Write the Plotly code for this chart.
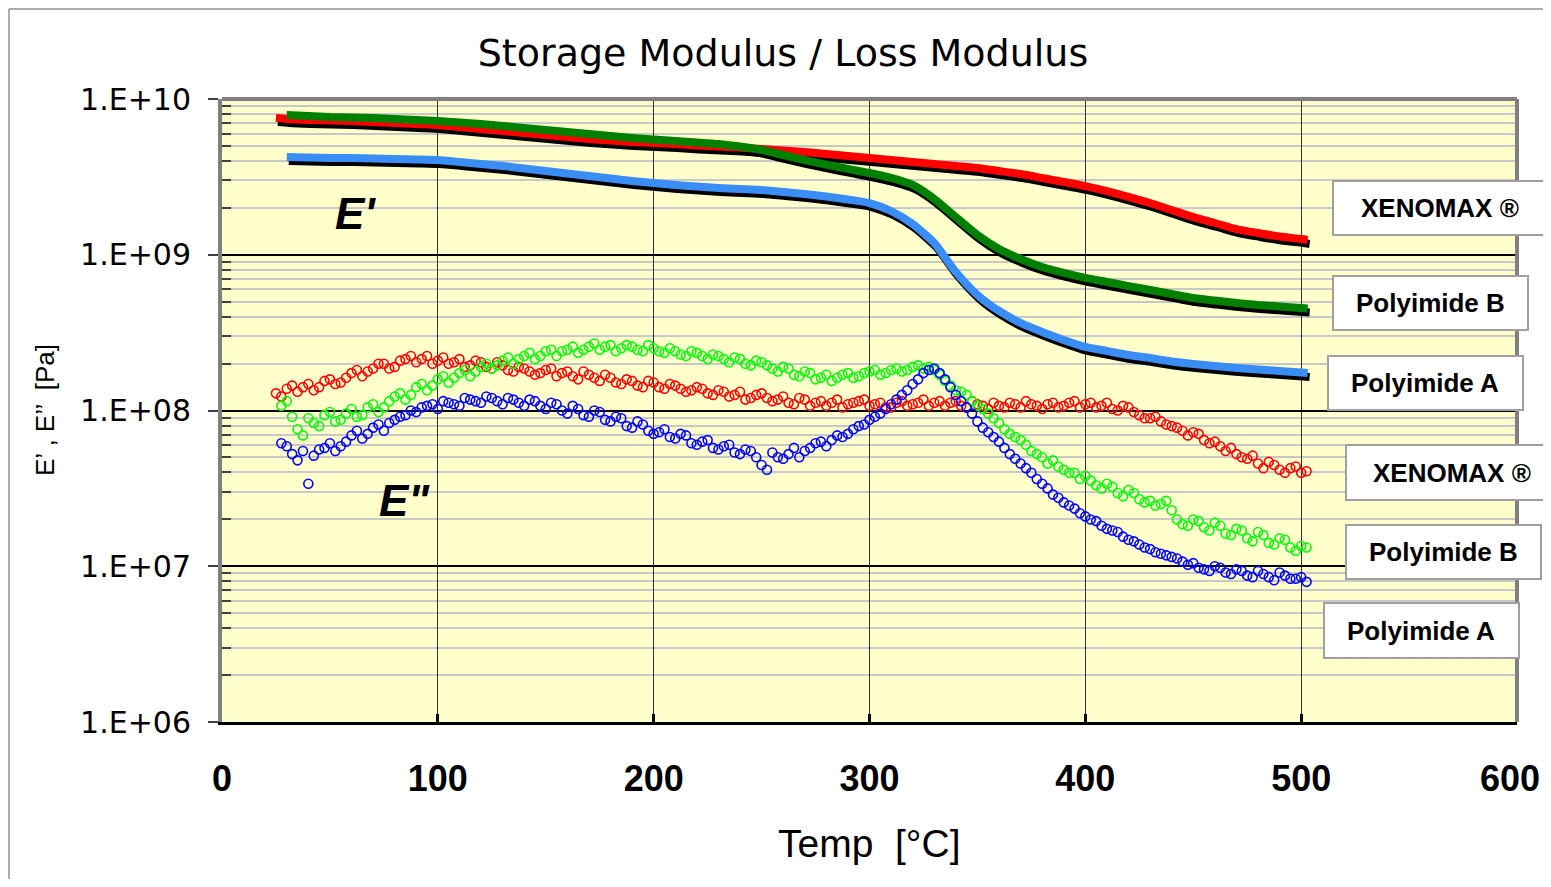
import plotly.graph_objects as go

# ---------------- data ----------------
SERIES_LABELS = ["XENOMAX ®", "Polyimide B", "Polyimide A"]

# Storage modulus E' : temperature [°C] and log10(E' [Pa])
T_EP = [25, 30, 40, 50, 60, 70, 80, 90, 100, 110, 120, 130, 140, 150, 160, 170, 180, 190,
        200, 210, 220, 230, 240, 250, 260, 270, 280, 290, 300, 310, 320, 330, 340, 350,
        360, 370, 380, 390, 400, 410, 420, 430, 440, 450, 460, 470, 480, 490, 500, 503]
LOG_EP_XENOMAX = [9.878, 9.872, 9.865, 9.862, 9.859, 9.852, 9.846, 9.839, 9.833, 9.820,
                  9.807, 9.795, 9.782, 9.769, 9.756, 9.743, 9.734, 9.724, 9.717, 9.711,
                  9.701, 9.695, 9.689, 9.679, 9.669, 9.660, 9.647, 9.634, 9.621, 9.608,
                  9.596, 9.583, 9.570, 9.557, 9.538, 9.518, 9.493, 9.467, 9.441, 9.409,
                  9.371, 9.332, 9.287, 9.242, 9.204, 9.165, 9.140, 9.117, 9.101, 9.095]
LOG_EP_PI_B = [None, 9.897, 9.891, 9.884, 9.881, 9.878, 9.872, 9.865, 9.859, 9.849,
               9.839, 9.827, 9.814, 9.801, 9.788, 9.775, 9.762, 9.750, 9.740, 9.730,
               9.721, 9.711, 9.695, 9.673, 9.640, 9.608, 9.579, 9.551, 9.525, 9.493,
               9.448, 9.358, 9.242, 9.127, 9.037, 8.973, 8.921, 8.883, 8.851, 8.825,
               8.799, 8.774, 8.748, 8.722, 8.706, 8.690, 8.677, 8.668, 8.658, 8.655]
LOG_EP_PI_A = [None, 9.628, 9.625, 9.621, 9.621, 9.618, 9.615, 9.612, 9.608, 9.596,
               9.583, 9.570, 9.554, 9.538, 9.522, 9.506, 9.490, 9.474, 9.461, 9.448,
               9.438, 9.429, 9.422, 9.416, 9.403, 9.390, 9.374, 9.355, 9.332, 9.281,
               9.197, 9.075, 8.889, 8.742, 8.639, 8.562, 8.504, 8.453, 8.408, 8.382,
               8.356, 8.337, 8.315, 8.299, 8.286, 8.273, 8.263, 8.254, 8.244, 8.241]

# Loss modulus E'' : two interleaved sets of readings, log10(E'' [Pa])
T_EPP_1 = [25, 30, 35, 40, 45, 50, 55, 60, 65, 70, 75, 80, 85, 90, 95, 100, 105, 110, 115,
           120, 125, 130, 135, 140, 145, 150, 155, 160, 165, 170, 175, 180, 185, 190, 195,
           200, 205, 210, 215, 220, 225, 230, 235, 240, 245, 250, 255, 260, 265, 270, 275,
           280, 285, 290, 295, 300, 305, 310, 315, 320, 325, 330, 335, 340, 345, 350, 355,
           360, 365, 370, 375, 380, 385, 390, 395, 400, 405, 410, 415, 420, 425, 430, 435,
           440, 445, 450, 455, 460, 465, 470, 475, 480, 485, 490, 495, 500]
T_EPP_2 = [27.5, 32.5, 37.5, 42.5, 47.5, 52.5, 57.5, 62.5, 67.5, 72.5, 77.5, 82.5, 87.5,
           92.5, 97.5, 102.5, 107.5, 112.5, 117.5, 122.5, 127.5, 132.5, 137.5, 142.5,
           147.5, 152.5, 157.5, 162.5, 167.5, 172.5, 177.5, 182.5, 187.5, 192.5, 197.5,
           202.5, 207.5, 212.5, 217.5, 222.5, 227.5, 232.5, 237.5, 242.5, 247.5, 252.5,
           257.5, 262.5, 267.5, 272.5, 277.5, 282.5, 287.5, 292.5, 297.5, 302.5, 307.5,
           312.5, 317.5, 322.5, 327.5, 332.5, 337.5, 342.5, 347.5, 352.5, 357.5, 362.5,
           367.5, 372.5, 377.5, 382.5, 387.5, 392.5, 397.5, 402.5, 407.5, 412.5, 417.5,
           422.5, 427.5, 432.5, 437.5, 442.5, 447.5, 452.5, 457.5, 462.5, 467.5, 472.5,
           477.5, 482.5, 487.5, 492.5, 497.5, 502.5]

LOG_EPP_XENOMAX_1 = [8.11, 8.14, 8.12, 8.17, 8.15, 8.20, 8.18, 8.24, 8.22, 8.27, 8.30, 8.28,
                     8.33, 8.31, 8.35, 8.32, 8.30, 8.33, 8.29, 8.31, 8.27, 8.29, 8.25, 8.27,
                     8.23, 8.26, 8.22, 8.25, 8.20, 8.23, 8.19, 8.21, 8.17, 8.19, 8.15, 8.18,
                     8.14, 8.16, 8.12, 8.15, 8.11, 8.13, 8.09, 8.12, 8.08, 8.11, 8.06, 8.09,
                     8.04, 8.07, 8.05, 8.03, 8.07, 8.04, 8.06, 8.03, 8.05, 8.02, 8.06, 8.04,
                     8.07, 8.05, 8.03, 8.06, 8.02, 8.04, 8.01, 8.03, 8.05, 8.02, 8.04, 8.01,
                     8.05, 8.03, 8.06, 8.04, 8.02, 8.05, 8.00, 8.02, 7.97, 7.95, 7.93, 7.90,
                     7.87, 7.86, 7.81, 7.80, 7.74, 7.72, 7.69, 7.66, 7.67, 7.62, 7.63, 7.60]
LOG_EPP_XENOMAX_2 = [8.09, 8.16, 8.15, 8.13, 8.19, 8.17, 8.21, 8.26, 8.25, 8.30, 8.27, 8.32,
                     8.35, 8.33, 8.30, 8.34, 8.31, 8.28, 8.32, 8.28, 8.31, 8.26, 8.28, 8.25,
                     8.24, 8.27, 8.24, 8.22, 8.25, 8.21, 8.23, 8.18, 8.20, 8.16, 8.19, 8.15,
                     8.17, 8.14, 8.13, 8.14, 8.10, 8.12, 8.10, 8.07, 8.10, 8.08, 8.07, 8.05,
                     8.08, 8.03, 8.06, 8.05, 8.02, 8.05, 8.07, 8.04, 8.02, 8.05, 8.03, 8.05,
                     8.03, 8.06, 8.05, 8.03, 8.06, 8.03, 8.05, 8.02, 8.04, 8.06, 8.03, 8.04,
                     8.02, 8.05, 8.02, 8.05, 8.03, 8.01, 8.03, 7.99, 7.95, 7.96, 7.91, 7.89,
                     7.84, 7.85, 7.79, 7.77, 7.76, 7.70, 7.71, 7.63, 7.65, 7.60, 7.64, 7.61]
LOG_EPP_PI_B_1 = [None, 8.06, 7.88, 7.95, 7.90, 7.99, 7.94, 8.01, 7.97, 8.04, 8.02, 8.09,
                  8.07, 8.15, 8.13, 8.20, 8.18, 8.24, 8.22, 8.28, 8.27, 8.32, 8.30, 8.35,
                  8.33, 8.38, 8.35, 8.39, 8.37, 8.41, 8.39, 8.42, 8.40, 8.41, 8.38, 8.40,
                  8.37, 8.38, 8.35, 8.37, 8.33, 8.35, 8.31, 8.33, 8.29, 8.31, 8.27, 8.28,
                  8.23, 8.25, 8.20, 8.23, 8.21, 8.24, 8.22, 8.25, 8.23, 8.26, 8.25, 8.28,
                  8.27, 8.26, 8.19, 8.13, 8.10, 8.03, 7.98, 7.92, 7.85, 7.81, 7.74, 7.70,
                  7.68, 7.62, 7.60, 7.58, 7.52, 7.53, 7.47, 7.49, 7.43, 7.42, 7.40, 7.36,
                  7.27, 7.30, 7.25, 7.28, 7.21, 7.24, 7.18, 7.22, 7.15, 7.18, 7.12, 7.13]
LOG_EPP_PI_B_2 = [8.03, 7.96, 7.84, 7.92, 7.97, 7.93, 7.98, 7.96, 8.02, 7.99, 8.06, 8.11,
                  8.10, 8.17, 8.16, 8.22, 8.21, 8.26, 8.25, 8.30, 8.29, 8.34, 8.33, 8.37,
                  8.35, 8.39, 8.38, 8.41, 8.39, 8.43, 8.41, 8.38, 8.42, 8.39, 8.42, 8.38,
                  8.40, 8.36, 8.38, 8.35, 8.36, 8.33, 8.34, 8.30, 8.32, 8.29, 8.25, 8.27,
                  8.22, 8.24, 8.21, 8.19, 8.23, 8.21, 8.24, 8.26, 8.24, 8.27, 8.26, 8.29,
                  8.28, 8.23, 8.16, 8.12, 8.06, 8.01, 7.95, 7.88, 7.83, 7.78, 7.72, 7.66,
                  7.64, 7.60, 7.56, 7.55, 7.50, 7.51, 7.45, 7.47, 7.41, 7.39, 7.42, 7.30,
                  7.26, 7.29, 7.23, 7.26, 7.20, 7.23, 7.16, 7.20, 7.14, 7.17, 7.10, 7.12]
LOG_EPP_PI_A_1 = [None, 7.77, 7.68, 7.53, 7.75, 7.79, 7.77, 7.84, 7.82, 7.89, 7.87, 7.94,
                  7.97, 7.99, 8.03, 8.01, 8.05, 8.03, 8.07, 8.05, 8.08, 8.04, 8.07, 8.03,
                  8.06, 8.01, 8.04, 7.98, 8.01, 7.96, 7.99, 7.93, 7.95, 7.89, 7.91, 7.85,
                  7.88, 7.82, 7.84, 7.78, 7.81, 7.75, 7.78, 7.72, 7.74, 7.65, 7.73, 7.69,
                  7.76, 7.74, 7.79, 7.77, 7.84, 7.85, 7.90, 7.94, 7.98, 8.04, 8.10, 8.17,
                  8.24, 8.27, 8.20, 8.10, 8.02, 7.93, 7.86, 7.80, 7.72, 7.66, 7.60, 7.53,
                  7.46, 7.41, 7.37, 7.32, 7.29, 7.24, 7.22, 7.17, 7.14, 7.11, 7.08, 7.06,
                  7.03, 7.02, 6.98, 7.00, 6.96, 6.98, 6.94, 6.97, 6.93, 6.96, 6.92, 6.93]
LOG_EPP_PI_A_2 = [7.79, 7.72, 7.74, 7.71, 7.76, 7.74, 7.80, 7.87, 7.85, 7.91, 7.92, 7.96,
                  8.00, 8.02, 8.04, 8.06, 8.04, 8.08, 8.06, 8.09, 8.06, 8.08, 8.05, 8.07,
                  8.03, 8.05, 8.00, 8.03, 7.97, 8.00, 7.94, 7.96, 7.90, 7.93, 7.87, 7.86,
                  7.83, 7.85, 7.79, 7.80, 7.76, 7.77, 7.73, 7.75, 7.70, 7.62, 7.70, 7.72,
                  7.70, 7.76, 7.80, 7.81, 7.83, 7.88, 7.91, 7.96, 8.01, 8.07, 8.13, 8.20,
                  8.26, 8.24, 8.15, 8.06, 7.98, 7.89, 7.83, 7.76, 7.69, 7.63, 7.56, 7.50,
                  7.44, 7.39, 7.34, 7.30, 7.26, 7.23, 7.19, 7.16, 7.12, 7.09, 7.07, 7.05,
                  7.01, 6.99, 6.97, 6.99, 6.95, 6.97, 6.93, 6.95, 6.91, 6.94, 6.92, 6.90]

X_TICK_VALUES = [0, 100, 200, 300, 400, 500, 600]
Y_TICK_VALUES = [1e6, 1e7, 1e8, 1e9, 1e10]
Y_TICK_TEXT = ["1.E+06", "1.E+07", "1.E+08", "1.E+09", "1.E+10"]
Y_MINOR_VALUES = [m * 10 ** e for e in range(6, 10) for m in range(2, 10)]

EP_COLORS = ["#FF0000", "#008000", "#3A8DF5"]
EPP_COLORS = ["#FF0000", "#00FF00", "#0000FF"]


def to_pa(logs):
    return [None if v is None else 10 ** v for v in logs]


# ---------------- geometry helpers (page pixels -> paper) ----------------
OFF = 8                                  # page body margin
W, H = 1551 - 2 * OFF, 887 - 2 * OFF     # figure fits the window exactly
L, R, TOP, BOT = 222, 1517, 99, 722      # plot area in page pixels
PW, PH = R - L, BOT - TOP


def px(xp):
    return (xp - L) / PW


def py(yp):
    return (BOT - yp) / PH


fig = go.Figure()

ep_series = [LOG_EP_XENOMAX, LOG_EP_PI_B, LOG_EP_PI_A]
epp_series = [(LOG_EPP_XENOMAX_1, LOG_EPP_XENOMAX_2),
              (LOG_EPP_PI_B_1, LOG_EPP_PI_B_2),
              (LOG_EPP_PI_A_1, LOG_EPP_PI_A_2)]

# E'' scatter (main axes)
for (s1, s2), col, name in zip(epp_series, EPP_COLORS, SERIES_LABELS):
    for tt, ss in ((T_EPP_1, s1), (T_EPP_2, s2)):
        fig.add_trace(go.Scatter(x=tt, y=to_pa(ss), mode="markers",
                                 name="E'' " + name,
                                 marker=dict(symbol="circle-open", size=9, color=col,
                                             line=dict(color=col, width=1.6)),
                                 showlegend=False))

# shadows of E' curves (shifted overlay axes)
for logs in ep_series:
    fig.add_trace(go.Scatter(x=T_EP, y=to_pa(logs), mode="lines", xaxis="x2", yaxis="y2",
                             line=dict(color="black", width=8, shape="spline", smoothing=0.6),
                             showlegend=False, hoverinfo="skip"))

# E' curves
for logs, col, name in zip(ep_series, EP_COLORS, SERIES_LABELS):
    fig.add_trace(go.Scatter(x=T_EP, y=to_pa(logs), mode="lines", xaxis="x3", yaxis="y3",
                             name="E' " + name,
                             line=dict(color=col, width=8, shape="spline", smoothing=0.6),
                             showlegend=False))

dx = 2 * 600 / PW       # 2 px right
dy = 4 * 4 / PH         # 4 px down (log units)

XTICK_FONT = dict(family="Liberation Sans", size=36, color="black", weight="bold")

fig.update_layout(
    width=W, height=H, autosize=False,
    margin=dict(l=L - OFF, r=W - (R - OFF), t=TOP - OFF, b=H - (BOT - OFF), pad=0),
    paper_bgcolor="white", plot_bgcolor="#FFFFCC",
    title=dict(text="Storage Modulus / Loss Modulus", x=(783 - OFF) / W, xref="container",
               xanchor="center", y=1 - (53 - OFF) / H, yref="container", yanchor="middle",
               font=dict(family="DejaVu Sans", size=38, color="black")),
    xaxis=dict(range=[0, 600], tickmode="array", tickvals=X_TICK_VALUES,
               ticks="inside", ticklen=8, tickwidth=3, tickcolor="black",
               showline=True, linecolor="black", linewidth=3,
               showgrid=True, gridcolor="#333333", gridwidth=1, zeroline=False,
               tickfont=XTICK_FONT, ticklabelstandoff=23),
    yaxis=dict(type="log", range=[6, 10], tickmode="array", tickvals=Y_TICK_VALUES,
               ticktext=Y_TICK_TEXT, ticks="outside", ticklen=10, tickwidth=1.5,
               tickcolor="#404040", showline=True, linecolor="#808080", linewidth=4,
               showgrid=True, gridcolor="black", gridwidth=1.5, zeroline=False,
               tickfont=dict(family="DejaVu Sans", size=30, color="black"),
               ticklabelstandoff=11,
               minor=dict(tickmode="array", tickvals=Y_MINOR_VALUES, ticks="inside",
                          ticklen=9, tickwidth=1.5, tickcolor="#404040",
                          showgrid=True, gridcolor="#C8C8C8", gridwidth=1.5)),
    xaxis2=dict(overlaying="x", range=[-dx, 600 - dx], visible=False),
    yaxis2=dict(overlaying="y", type="log", range=[6 + dy, 10 + dy], visible=False),
    xaxis3=dict(overlaying="x", range=[0, 600], visible=False),
    yaxis3=dict(overlaying="y", type="log", range=[6, 10], visible=False),
)

shapes = []
# outer chart border (left and top)
shapes.append(dict(type="line", xref="paper", yref="paper", x0=px(9), x1=px(9),
                   y0=py(9), y1=py(900), line=dict(color="#909090", width=1.5)))
shapes.append(dict(type="line", xref="paper", yref="paper", x0=px(9), x1=px(1600),
                   y0=py(9), y1=py(9), line=dict(color="#909090", width=1.5)))
# plot frame top / right
shapes.append(dict(type="line", xref="paper", yref="paper", x0=0, x1=1, y0=1, y1=1,
                   line=dict(color="#808080", width=4)))
shapes.append(dict(type="line", xref="paper", yref="paper", x0=1, x1=1, y0=0, y1=1,
                   line=dict(color="#808080", width=4)))

# label boxes: (left, top, right, bottom, text cx, text cy, label) in page pixels
BOXES = [
    (1333, 181, 1547, 235, 1440, 208, SERIES_LABELS[0]),
    (1333, 276, 1528, 330, 1430, 303, SERIES_LABELS[1]),
    (1328, 356, 1523, 410, 1425, 383, SERIES_LABELS[2]),
    (1346, 445, 1560, 500, 1452, 473, SERIES_LABELS[0]),
    (1346, 525, 1541, 579, 1443, 552, SERIES_LABELS[1]),
    (1324, 603, 1519, 658, 1421, 631, SERIES_LABELS[2]),
]
annotations = []
for x0, y0, x1, y1, cx, cy, lab in BOXES:
    shapes.append(dict(type="rect", xref="paper", yref="paper", x0=px(x0), x1=px(x1),
                       y0=py(y1), y1=py(y0), fillcolor="white",
                       line=dict(color="#A0A0A0", width=2)))
    annotations.append(dict(text="<b>" + lab + "</b>", xref="paper", yref="paper",
                            x=px(cx), y=py(cy), xanchor="center", yanchor="middle",
                            showarrow=False,
                            font=dict(family="Liberation Sans", size=26, color="black")))

annotations += [
    # last x tick label, kept inside the figure edge (auto label would overflow the page)
    dict(text=str(X_TICK_VALUES[-1]), xref="x", yref="paper", x=X_TICK_VALUES[-1],
         y=py(778), xanchor="right", yanchor="middle", xshift=25, showarrow=False,
         font=XTICK_FONT),
    dict(text="Temp  [°C]", xref="paper", yref="paper", x=px(869), y=py(843),
         xanchor="center", yanchor="middle", showarrow=False,
         font=dict(family="Liberation Sans", size=39, color="black")),
    dict(text="E’ , E’’  [Pa]", xref="paper", yref="paper", x=px(45), y=py(410),
         xanchor="center", yanchor="middle", showarrow=False, textangle=-90,
         font=dict(family="Liberation Sans", size=26, color="black")),
    dict(text="<b><i>E'</i></b>", xref="paper", yref="paper", x=px(355), y=py(214),
         xanchor="center", yanchor="middle", showarrow=False,
         font=dict(family="Liberation Sans", size=44, color="black")),
    dict(text="<b><i>E\"</i></b>", xref="paper", yref="paper", x=px(404), y=py(500),
         xanchor="center", yanchor="middle", showarrow=False,
         font=dict(family="Liberation Sans", size=44, color="black")),
]

fig.update_layout(shapes=shapes, annotations=annotations)
fig.write_html("out.html", config={"displayModeBar": False})
